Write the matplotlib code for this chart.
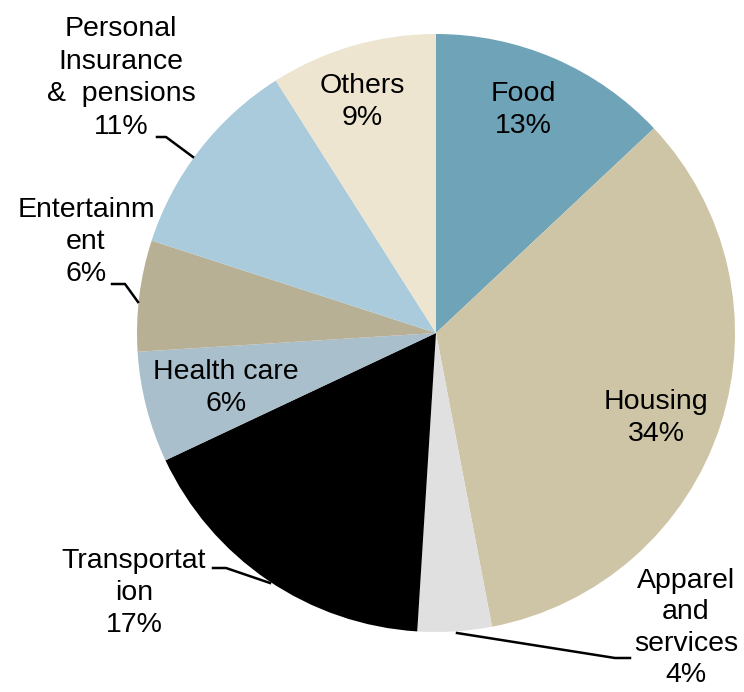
import matplotlib.pyplot as plt

# spending shares, clockwise from 12 o'clock
categories = ["Food", "Housing", "Apparel\nand\nservices", "Transportat\nion",
              "Health care", "Entertainm\nent", "Personal\nInsurance\n&  pensions", "Others"]
shares = [13, 34, 4, 17, 6, 6, 11, 9]
colors = ["#6fa3b8", "#cec5a6", "#e0e0e0", "#000000",
          "#a9bfcb", "#b8b095", "#a9cbdc", "#ede5d0"]

W, H = 744, 692
plt.rcParams['font.family'] = ['Liberation Sans', 'DejaVu Sans']

fig = plt.figure(figsize=(W / 100, H / 100), dpi=100)
ax = fig.add_axes([0, 0, 1, 1])

def P(x, y):
    # pixel coords (y down) -> axes data coords (y up)
    return (x, H - y)

ax.pie(shares, colors=colors, startangle=90, counterclock=False,
       center=P(436, 333), radius=299, frame=True,
       wedgeprops=dict(linewidth=0))
ax.set_xlim(0, W)
ax.set_ylim(0, H)
ax.set_aspect('equal')
ax.axis('off')

fs = 20.5
def lab(i, x, y, ls=1.32):
    txt = categories[i] + "\n" + str(shares[i]) + "%"
    ax.text(*P(x, y), txt, ha='center', va='center', fontsize=fs,
            linespacing=ls, color='black')

# inside labels
lab(0, 523, 110)
lab(7, 362, 102)
lab(1, 656, 418)
lab(4, 226, 388)

# outside labels
lab(6, 121, 78)
lab(5, 86, 242)
lab(3, 134, 593)
lab(2, 686, 628, ls=1.27)

# leader lines
leaders = [
    [(157, 137), (166, 137), (193, 157)],
    [(112, 284), (125, 284), (138, 302)],
    [(213, 568), (226, 568), (270, 583)],
    [(457, 633), (615, 658), (630, 658)],
]
for pts in leaders:
    xs = [P(*p)[0] for p in pts]
    ys = [P(*p)[1] for p in pts]
    ax.plot(xs, ys, color='black', linewidth=1.8)

fig.savefig("out.png", dpi=100)
